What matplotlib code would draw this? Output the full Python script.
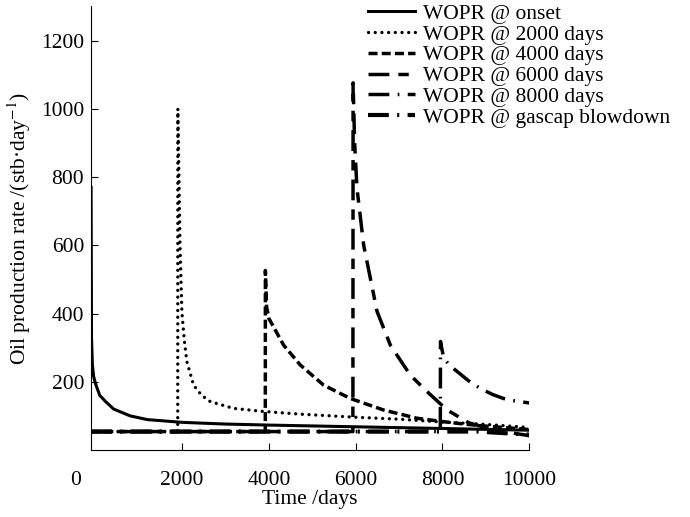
import matplotlib
matplotlib.use("Agg")
import matplotlib.pyplot as plt

plt.rcParams['font.family'] = ['Liberation Serif', 'DejaVu Serif']
plt.rcParams['mathtext.fontset'] = 'stix'

# Data (time in days, rate in stb/day)
t_onset = [-100, -90, -70, -40, 0, 100, 250, 420, 800, 1200, 2000, 3000, 4000, 6000, 8000, 10000]
q_onset = [770, 330, 250, 215, 195, 160, 140, 120, 100, 89, 81, 76, 73, 68, 63, 58]

t_2000 = [-100, 1897, 1900, 1950, 1993, 2050, 2108, 2262, 2450, 2646, 3180, 3870, 4730, 6000, 7040, 8000, 9000, 10000]
q_2000 = [54, 54, 1000, 600, 405, 320, 259, 190, 160, 142, 122, 113, 105, 96, 90, 82, 75, 66]

t_4000 = [-100, 3916, 3918, 3945, 4000, 4340, 4723, 5261, 5877, 6646, 7415, 7954, 8500, 9000, 10000]
q_4000 = [54, 54, 526, 420, 385, 307, 249, 190, 151, 117, 93, 84, 76, 70, 60]

t_6000 = [-100, 5935, 5940, 5975, 6030, 6184, 6492, 6800, 7261, 7646, 7954, 8100, 8600, 9200, 10000]
q_6000 = [54, 54, 1076, 900, 766, 600, 406, 307, 219, 171, 135, 118, 80, 58, 42]

t_8000 = [-100, 7950, 7955, 7980, 8030, 8150, 8300, 8600, 8875, 9150, 9405, 9700, 10000]
q_8000 = [54, 54, 318, 300, 270, 250, 234, 203, 180, 163, 151, 143, 138]

t_gascap = [-100, 8800, 10000]
q_gascap = [54, 54, 45]

labels = ['WOPR @ onset', 'WOPR @ 2000 days', 'WOPR @ 4000 days',
          'WOPR @ 6000 days', 'WOPR @ 8000 days', 'WOPR @ gascap blowdown']

fs = 15.5

fig = plt.figure(figsize=(6.9, 5.17), dpi=100)
ax = fig.add_axes([0.132, 0.1296, 0.635, 0.858])

ax.plot(t_onset, q_onset, color='black', lw=2.2, solid_joinstyle='round', label=labels[0])
ax.plot(t_2000, q_2000, color='black', lw=2.4, linestyle=(0, (0.01, 2.0)),
        dash_capstyle='round', label=labels[1])
ax.plot(t_4000, q_4000, color='black', lw=2.5, linestyle=(0, (2.6, 1.2)), label=labels[2])
ax.plot(t_6000, q_6000, color='black', lw=2.5, linestyle=(0, (6, 2.6, 3, 2.6)), label=labels[3])
ax.plot(t_8000, q_8000, color='black', lw=2.5, linestyle=(0, (6, 2.4, 0.5, 2.4)), label=labels[4])
ax.plot(t_gascap, q_gascap, color='black', lw=3.0, linestyle=(0, (5, 2.0, 0.5, 2.0)), label=labels[5])

ax.set_xlim(-100, 10000)
ax.set_ylim(0, 1300)
ax.set_xticks([2000, 4000, 6000, 8000, 10000])
ax.set_yticks([200, 400, 600, 800, 1000, 1200])
ax.spines['top'].set_visible(False)
ax.spines['right'].set_visible(False)
ax.tick_params(axis='x', direction='in', length=5, pad=15, labelsize=fs)
ax.tick_params(axis='y', direction='in', length=5, pad=5, labelsize=fs)
ax.annotate('0', xy=(0, 0), xycoords='axes fraction', xytext=(-16, -31),
            textcoords='offset pixels', ha='center', va='center', fontsize=fs)

ax.set_xlabel('Time /days', fontsize=fs, labelpad=0)
ax.set_ylabel('Oil production rate /(stb·day$^{-1}$)', fontsize=fs, labelpad=6)

ax.legend(loc='upper left', bbox_to_anchor=(0.612, 1.025), frameon=False, fontsize=fs,
          handlelength=2.2, handletextpad=0.35, labelspacing=0.03, borderaxespad=0)

fig.savefig('out.png', dpi=100)
